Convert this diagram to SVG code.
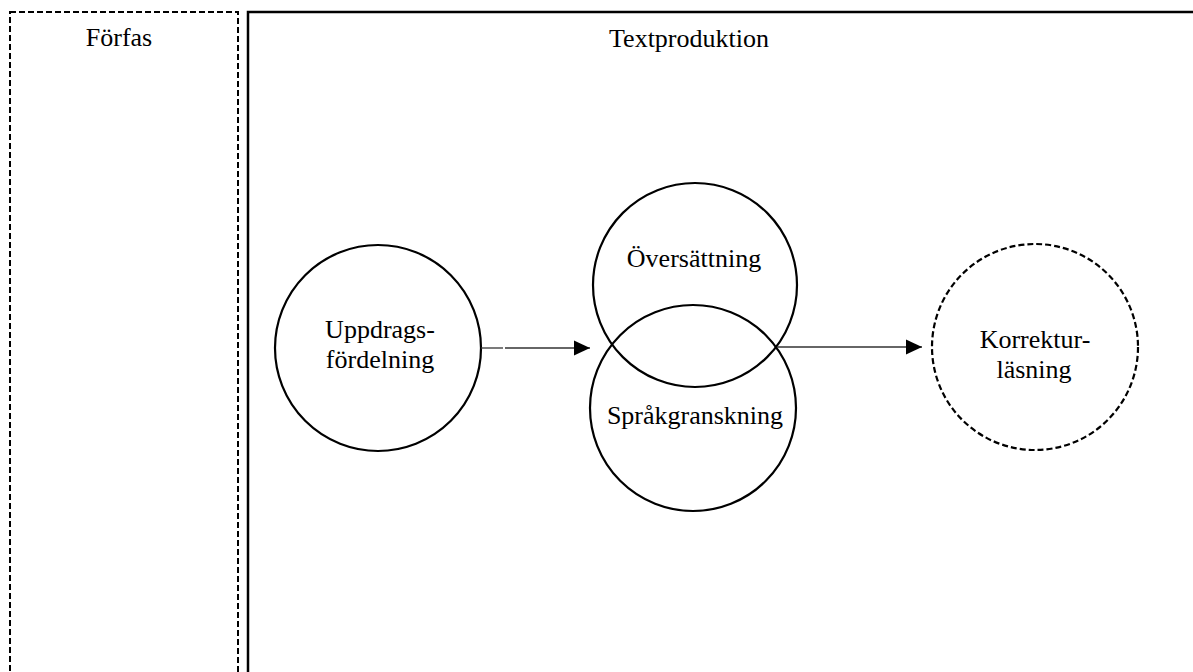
<svg xmlns="http://www.w3.org/2000/svg" width="1193" height="672" viewBox="0 0 1193 672">
<style>
text{font-family:"Liberation Serif","Times New Roman",serif;font-size:26px;fill:#000;text-anchor:middle}
.circ{fill:none;stroke:#000;stroke-width:2.2}
.dash{stroke-dasharray:6 3}
.conn{stroke:#333;stroke-width:1.3;fill:none}
</style>
<defs>
<marker id="ah" markerUnits="userSpaceOnUse" markerWidth="16" markerHeight="16" refX="16" refY="8" orient="auto">
<path d="M0,0.5 L16,8 L0,15.5 Z" fill="#000"/>
</marker>
</defs>
<g id="forfas">
<rect x="10" y="12" width="228" height="700" fill="none" stroke="#000" stroke-width="2" class="dash"/>
<text x="119" y="46">Förfas</text>
</g>
<g id="textproduktion">
<rect x="248" y="12" width="1000" height="700" fill="none" stroke="#000" stroke-width="2.5"/>
<text x="689" y="47">Textproduktion</text>
</g>
<g id="uppdrag">
<circle class="circ" cx="378" cy="348" r="103"/>
<text x="380" y="338">Uppdrags-</text>
<text x="380" y="368">fördelning</text>
</g>
<g id="oversattning">
<circle class="circ" cx="695" cy="285" r="102"/>
<text x="694" y="267">Översättning</text>
</g>
<g id="sprakgranskning">
<circle class="circ" cx="693" cy="408" r="103"/>
<text x="695" y="424">Språkgranskning</text>
</g>
<g id="korrektur">
<circle class="circ dash" cx="1035" cy="347" r="103"/>
<text x="1035" y="348">Korrektur-</text>
<text x="1034" y="378">läsning</text>
</g>
<g id="connectors">
<line class="conn" x1="481" y1="348" x2="503" y2="348"/>
<line class="conn" x1="505" y1="348" x2="590" y2="348" marker-end="url(#ah)"/>
<line class="conn" x1="777" y1="347" x2="922" y2="347" marker-end="url(#ah)"/>
</g>
</svg>
